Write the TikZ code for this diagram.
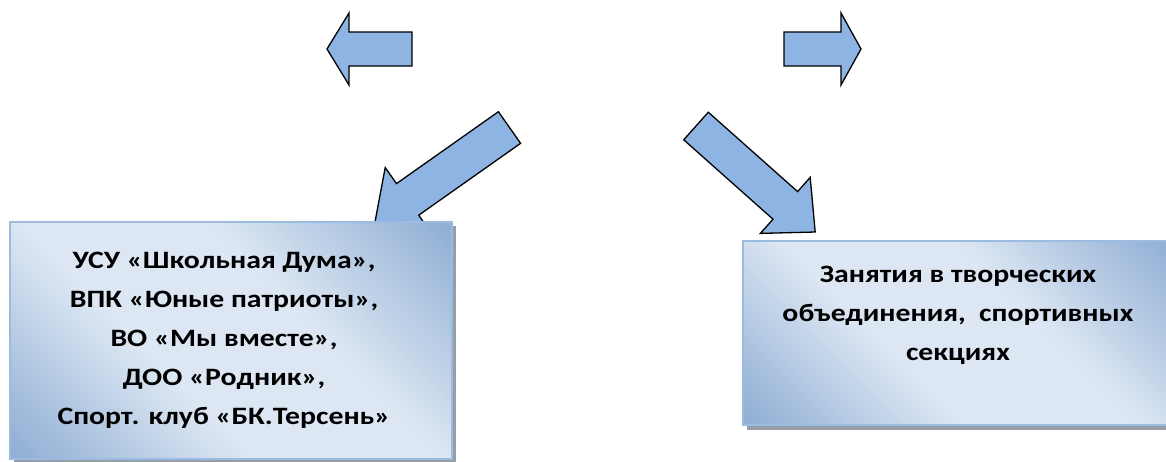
\documentclass[tikz,border=0pt]{standalone}
\usepackage{fontspec}
\setmainfont{Carlito}
\newfontfamily\boxfont{Carlito}[BoldFont={Carlito Bold},FakeStretch=1.19]
\definecolor{arrowblue}{RGB}{141,180,226}
\definecolor{boxdark}{RGB}{146,176,213}
\definecolor{boxlight}{RGB}{221,231,243}
\definecolor{boxedge}{RGB}{155,187,224}
\definecolor{shadowgrey}{RGB}{150,158,170}
\pgfdeclareverticalshading{boxgrad}{100bp}{color(0bp)=(boxdark); color(16bp)=(boxdark); color(40bp)=(boxlight); color(60bp)=(boxlight); color(84bp)=(boxdark); color(100bp)=(boxdark)}
\tikzset{
  blockarrow/.style={draw=black, line width=1.3pt, fill=arrowblue, line join=miter},
  gradbox/.style={draw=boxedge, line width=1.2pt, rectangle, inner sep=0pt,
    shading=boxgrad, shading angle=-45},
  boxshadow/.style={fill=shadowgrey},
  boxtext/.style={align=center, inner sep=0pt,
    font=\boxfont\bfseries\fontsize{25}{39}\selectfont}
}
\begin{document}
\begin{tikzpicture}[x=1pt,y=-1pt]
\useasboundingbox (0,0) rectangle (1166,461);
% top arrows
\draw[blockarrow] (412,32) -- (349,32) -- (349,13) -- (327,49) -- (349,85) -- (349,66) -- (412,66) -- cycle;
\draw[blockarrow] (784,32) -- (841,32) -- (841,13) -- (861,49) -- (841,85) -- (841,66) -- (784,66) -- cycle;
% diagonal arrows
\draw[blockarrow] (498.4,111.7) -- (396.5,183.6) -- (385.2,167.6) -- (374.9,222.5) -- (430.0,231.2) -- (418.7,215.2) -- (520.6,143.3) -- cycle;
\draw[blockarrow] (708.3,112.2) -- (797.6,191.6) -- (810.2,177.4) -- (815.2,232.0) -- (760.4,233.4) -- (773.0,219.2) -- (683.7,139.8) -- cycle;
% shadows
\coordinate (LS1) at (14,226);
\coordinate (LS2) at (456,463);
\coordinate (RS1) at (747,245);
\coordinate (RS2) at (1180,430);
\fill[boxshadow] (LS1) rectangle (LS2);
\fill[boxshadow] (RS1) rectangle (RS2);
% boxes
\node[gradbox, minimum width=442pt, minimum height=237pt] (L) at (231,340.5) {};
\node[gradbox, minimum width=432pt, minimum height=184pt] (R) at (959,333) {};
\node[boxtext] (Ltext) at (224,340) {УСУ «Школьная Дума»,\\ВПК «Юные патриоты»,\\ВО «Мы вместе»,\\ДОО «Родник»,\\Спорт. клуб «БК.Терсень»};
\node[boxtext] (Rtext) at (958,315) {Занятия в творческих\\объединения,\ \ спортивных\\секциях};
\end{tikzpicture}
\end{document}
